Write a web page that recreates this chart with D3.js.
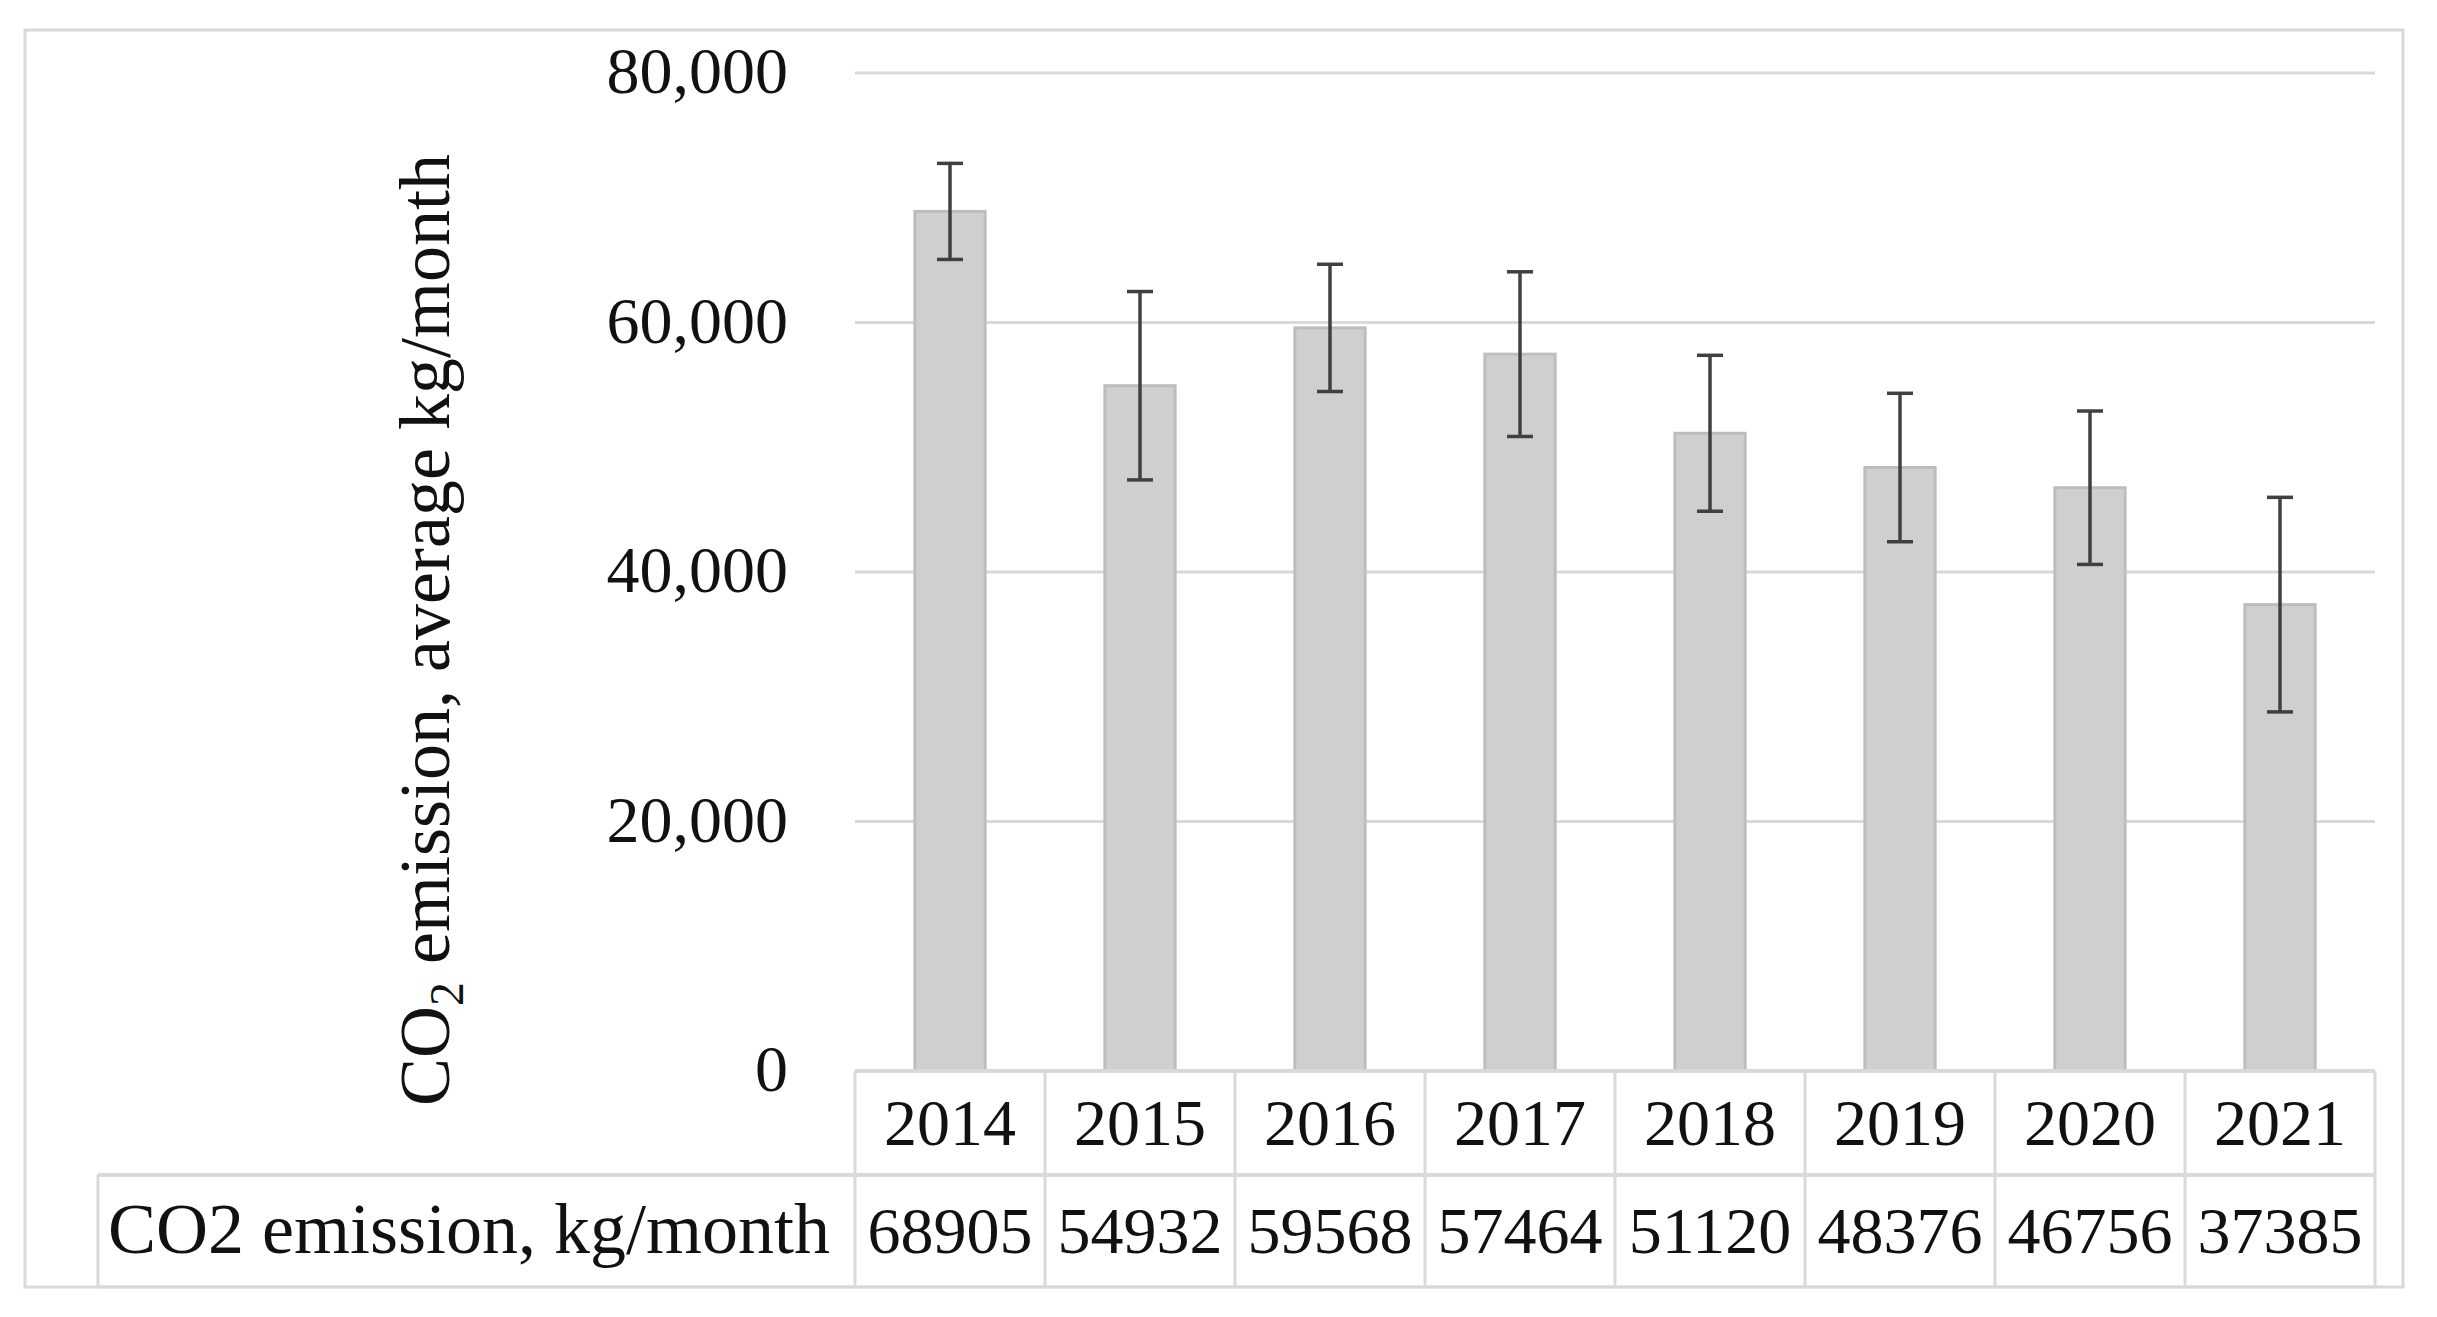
<!DOCTYPE html>
<html>
<head>
<meta charset="utf-8">
<script src="https://cdn.jsdelivr.net/npm/d3@7"></script>
<style>
  html, body { margin: 0; padding: 0; background: #fff; }
  svg { display: block; }
  text { font-family: "Palatino Linotype", "Book Antiqua", Palatino, "Liberation Serif", serif; fill: #111; }
</style>
</head>
<body>
<svg id="chart" width="2437" height="1317"></svg>
<script>
// ---- data ----
const years = ["2014", "2015", "2016", "2017", "2018", "2019", "2020", "2021"];
const emissions = [68905, 54932, 59568, 57464, 51120, 48376, 46756, 37385];
const errors = [3850, 7550, 5100, 6600, 6250, 5950, 6150, 8600];
const yTicks = [0, 20000, 40000, 60000, 80000];
const rowLabel = "CO2 emission, kg/month";

// ---- layout ----
const W = 2437, H = 1317;
const plotL = 855, plotR = 2375, plotT = 73, plotB = 1071;
const row1B = 1175, row2B = 1287;
const outer = { x: 25, y: 30, r: 2403, b: 1287 };
const labelBoxL = 98;
const gridColor = "#d9d9d9";

const svg = d3.select("#chart");

const x = d3.scaleBand().domain(years).range([plotL, plotR]).paddingInner(0).paddingOuter(0);
const y = d3.scaleLinear().domain([0, 80000]).range([plotB, plotT]);
const fmt = d3.format(",");

// outer border
svg.append("rect")
  .attr("x", outer.x).attr("y", outer.y)
  .attr("width", outer.r - outer.x).attr("height", outer.b - outer.y)
  .attr("fill", "none").attr("stroke", gridColor).attr("stroke-width", 3);

// gridlines
svg.append("g").selectAll("line")
  .data(yTicks.filter(d => d > 0))
  .join("line")
  .attr("x1", plotL).attr("x2", plotR)
  .attr("y1", d => y(d)).attr("y2", d => y(d))
  .attr("stroke", gridColor).attr("stroke-width", 3);

// y tick labels
svg.append("g").selectAll("text")
  .data(yTicks)
  .join("text")
  .attr("x", 788)
  .attr("y", d => y(d) + 20)
  .attr("text-anchor", "end")
  .attr("font-size", 66)
  .text(d => fmt(d));

// y-axis title
const title = svg.append("text")
  .attr("transform", "translate(449," + 630 + ") rotate(-90)")
  .attr("text-anchor", "middle")
  .attr("font-size", 72);
title.append("tspan").text("CO");
title.append("tspan").attr("dy", 14).attr("font-size", 48).text("2");
title.append("tspan").attr("dy", -14).text(" emission, average kg/month");

// bars
const bw = x.bandwidth() * 0.37;
svg.append("g").selectAll("rect")
  .data(years)
  .join("rect")
  .attr("x", (d) => x(d) + (x.bandwidth() - bw) / 2)
  .attr("y", (d, i) => y(emissions[i]))
  .attr("width", bw)
  .attr("height", (d, i) => y(0) - y(emissions[i]))
  .attr("fill", "#cfcfcf")
  .attr("stroke", "#bdbdbd")
  .attr("stroke-width", 3);

// error bars
const eg = svg.append("g").attr("stroke", "#404040").attr("stroke-width", 3.5);
years.forEach((d, i) => {
  const cx = x(d) + x.bandwidth() / 2;
  const hi = y(emissions[i] + errors[i]);
  const lo = y(emissions[i] - errors[i]);
  eg.append("line").attr("x1", cx).attr("x2", cx).attr("y1", hi).attr("y2", lo);
  eg.append("line").attr("x1", cx - 13).attr("x2", cx + 13).attr("y1", hi).attr("y2", hi);
  eg.append("line").attr("x1", cx - 13).attr("x2", cx + 13).attr("y1", lo).attr("y2", lo);
});

// data table
const tg = svg.append("g").attr("stroke", gridColor).attr("stroke-width", 3);
tg.append("line").attr("x1", plotL).attr("x2", plotR).attr("y1", plotB).attr("y2", plotB).attr("stroke-width", 4);
tg.append("line").attr("x1", labelBoxL).attr("x2", plotR).attr("y1", row1B).attr("y2", row1B).attr("stroke-width", 4);
tg.append("line").attr("x1", labelBoxL).attr("x2", plotR).attr("y1", row2B).attr("y2", row2B);
tg.append("line").attr("x1", labelBoxL).attr("x2", labelBoxL).attr("y1", row1B).attr("y2", row2B);
const bounds = years.map(d => x(d)).concat([plotR]);
tg.selectAll("line.col")
  .data(bounds)
  .join("line")
  .attr("class", "col")
  .attr("x1", d => d).attr("x2", d => d)
  .attr("y1", plotB).attr("y2", row2B);

// year labels
svg.append("g").selectAll("text")
  .data(years)
  .join("text")
  .attr("x", d => x(d) + x.bandwidth() / 2)
  .attr("y", (plotB + row1B) / 2 + 22)
  .attr("text-anchor", "middle")
  .attr("font-size", 66)
  .text(d => d);

// value labels
svg.append("g").selectAll("text")
  .data(years)
  .join("text")
  .attr("x", d => x(d) + x.bandwidth() / 2)
  .attr("y", (row1B + row2B) / 2 + 22)
  .attr("text-anchor", "middle")
  .attr("font-size", 66)
  .text((d, i) => String(emissions[i]));

// row label
svg.append("text")
  .attr("x", 108)
  .attr("y", (row1B + row2B) / 2 + 22)
  .attr("font-size", 72)
  .text(rowLabel);
</script>
</body>
</html>
